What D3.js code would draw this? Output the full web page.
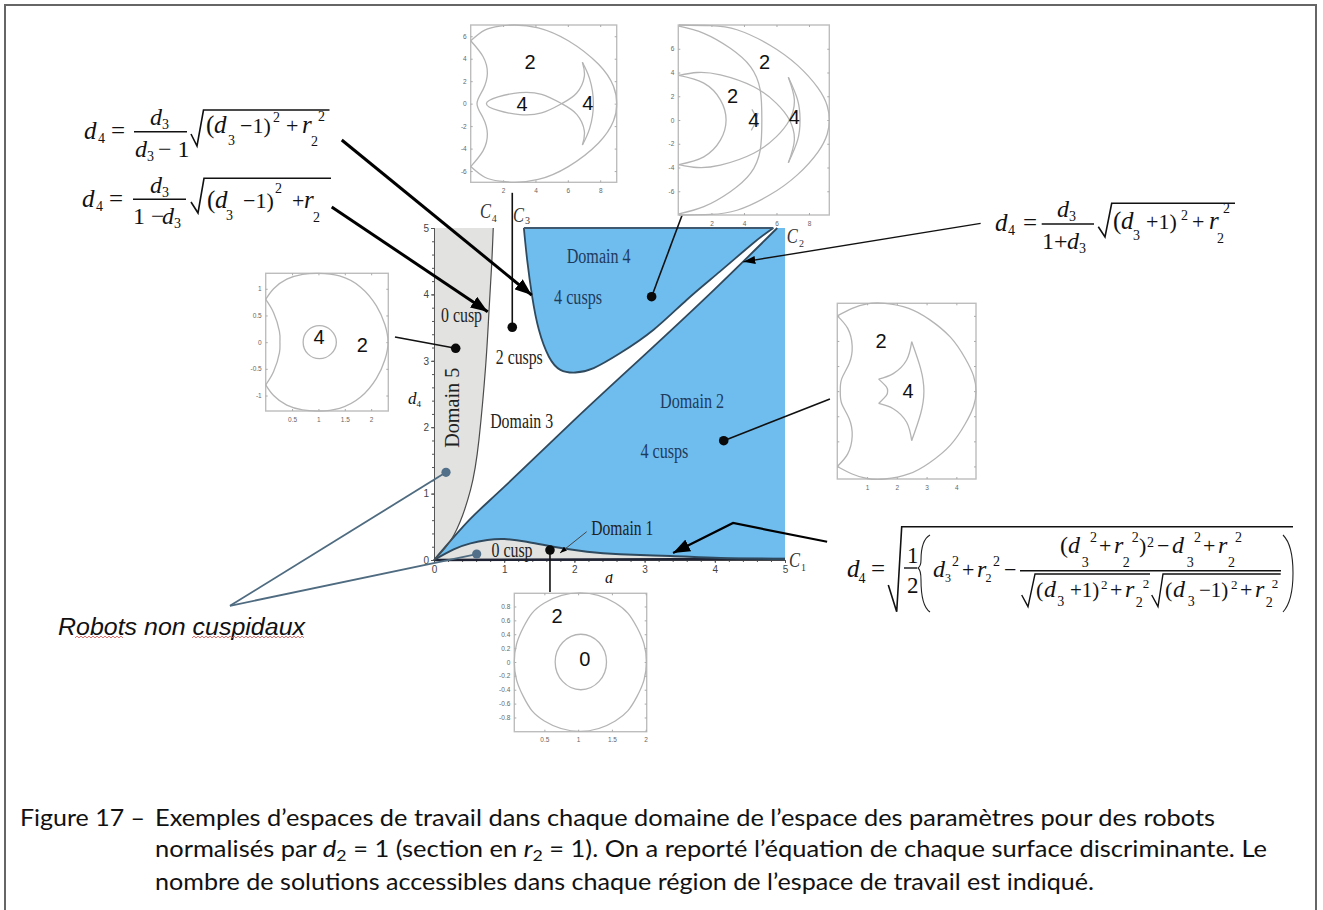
<!DOCTYPE html>
<html><head><meta charset="utf-8">
<script src="https://cdnjs.cloudflare.com/ajax/libs/d3/7.8.5/d3.min.js"></script>
<style>html,body{margin:0;background:#fff}svg{display:block}</style></head>
<body><svg id="c" width="1323" height="910"></svg>
<script>
// ---- main chart values (d3, d4) ----
const tickValues=[0,1,2,3,4,5];
const curveC1=[[0,0],[.28,.16],[.52,.25],[.76,.3],[1,.315],[1.32,.275],[1.7,.2],[2.18,.125],[2.65,.085],[3.37,.06],[4.08,.03],[5,.015]];
const curveC2=[[0,0],[.5,.6],[1,1.1],[2,2.11],[3,3.09],[4,4.08],[4.89,5]];
const curveC3=[[1.28,5],[1.327,4.52],[1.398,3.97],[1.493,3.47],[1.635,3.065],[1.8,2.864],[2.014,2.824],[2.275,2.89],[2.654,3.116],[3.128,3.467],[3.602,3.92],[4.076,4.347],[4.55,4.774],[4.834,5]];
const curveC4=[[0,0],[.284,.377],[.52,1.055],[.64,1.81],[.735,2.91],[.782,3.72],[.82,4.42],[.844,5]];
const blackDots=[[3.1,3.965],[1.115,3.505],[.309,3.188],[4.127,1.797],[1.652,.15]];
const slateDots=[[.171,1.32],[.608,.09]];
const leaders=[[[1.115,3.505],[1.115,5.53]],[[3.1,3.965],[3.54,5.21]],[[.309,3.188],[-.556,3.358]],[[4.127,1.797],[5.64,2.425]],[[1.652,.15],[1.652,-.482]]];
const thickArrows=[[[-1.314,6.325],[1.392,3.99]],[[-1.457,5.316],[.765,3.74]]];
const thinArrow=[[7.787,5.07],[4.406,4.49]];
const elbowArrow=[[5.6,.275],[4.26,.557],[3.405,.105]];
const smallArrow=[[2.175,.426],[1.795,.105]];
const robotLines=[[[-2.906,-.69],[.171,1.32]],[[-2.906,-.69],[.608,.09]]];
const regionLabels=[
 ["Domain 4",1.89,4.47,64,"#1f3b5c"],["4 cusps",1.71,3.85,48,"#1f3b5c"],
 ["Domain 2",3.22,2.29,64,"#1f3b5c"],["4 cusps",2.94,1.54,48,"#1f3b5c"],
 ["Domain 3",.8,1.99,63,"#222"],["2 cusps",.88,2.95,47,"#222"],
 ["0 cusp",.1,3.59,41,"#222"],["Domain 1",2.24,.38,62,"#222"],["0 cusp",.82,.05,41,"#222"]];

// ---- workspace insets: axes ----
const insetA={x:[0,9.02],y:[-7,7],xt:[2,4,6,8],yt:[-6,-4,-2,0,2,4,6]};
const insetB={x:[-.04,9.25],y:[-8,8],xt:[2,4,6,8],yt:[-6,-4,-2,0,2,4,6]};
const insetC={x:[0,2.325],y:[-1.29,1.29],xt:[.5,1,1.5,2],yt:[-1,-.5,0,.5,1]};
const insetD={x:[0,4.66],y:[-3.5,3.5],xt:[1,2,3,4],yt:[-3,-2,-1,0,1,2,3]};
const insetE={x:[.055,2.015],y:[-1.005,.99],xt:[.5,1,1.5,2],yt:[-.8,-.6,-.4,-.2,0,.2,.4,.6,.8]};
// ---- workspace insets: boundaries ----
const linesA=[
 [[0,5.6],[.87,6.55],[1.8,6.9],[2.73,7],[4.17,6.75],[6.03,5.6],[7.9,3.5],[8.82,1.55],[9.02,0],[8.82,-1.55],[7.9,-3.5],[6.03,-5.6],[4.17,-6.75],[2.73,-7],[1.8,-6.9],[.87,-6.55],[0,-5.6]],
 [[0,5.6],[.76,4.2],[1.03,2.7],[.76,1.25],[.39,0],[.76,-1.25],[1.03,-2.7],[.76,-4.2],[0,-5.6]],
 [[6.9,3.68],[7.35,2.2],[7.58,0],[7.35,-2.2],[6.9,-3.68]],
 [[6.9,3.68],[7.02,2.43],[6.55,.95],[5.62,0],[4.38,-.83],[3.04,-.98],[1.69,-.6],[.97,0],[1.69,.6],[3.04,.98],[4.38,.83],[5.62,0],[6.55,-.95],[7.02,-2.43],[6.9,-3.68]]];
const linesB=[
 [[0,8],[1.94,7.95],[3.57,7.6],[5.6,6.3],[7.3,4.6],[8.55,2.7],[9.12,1.2],[9.25,0],[9.12,-1.2],[8.55,-2.7],[7.3,-4.6],[5.6,-6.3],[3.57,-7.6],[1.94,-7.95],[0,-8]],
 [[0,7.9],[1.53,7.3],[3.16,6.04],[4.4,4.5],[5,2.53],[5.1,0],[5,-2.53],[4.4,-4.5],[3.16,-6.04],[1.53,-7.3],[0,-7.9]],
 [[6.73,3.6],[7.1,1.7],[6.8,0],[6,-1.4],[4.6,-2.8],[2.55,-3.8],[1.12,-4],[0,-3.75]],
 [[6.73,-3.6],[7.1,-1.7],[6.8,0],[6,1.4],[4.6,2.8],[2.55,3.8],[1.12,4],[0,3.75]],
 [[6.73,3.6],[7.3,1.7],[7.45,0],[7.3,-1.7],[6.73,-3.6]],
 [[0,3.75],[1.53,3.1],[2.55,1.7],[2.9,0],[2.55,-1.7],[1.53,-3.1],[0,-3.75]],
 [[4.49,.9],[4.75,.2],[4.86,-.5]],[[4.45,-.87],[4.7,-.2],[4.86,.6]]];
const linesC=[
 [[0,.8],[.15,1],[.4,1.18],[.7,1.27],[1,1.29],[1.4,1.24],[1.8,1.03],[2.1,.68],[2.26,.33],[2.32,0],[2.26,-.33],[2.1,-.68],[1.8,-1.03],[1.4,-1.24],[1,-1.29],[.7,-1.27],[.4,-1.18],[.15,-1],[0,-.8]],
 [[0,.8],[.15,.55],[.26,.2],[.27,0],[.26,-.2],[.15,-.55],[0,-.8]],
 [[.71,0],[.8,.22],[1.02,.31],[1.24,.22],[1.34,0],[1.24,-.22],[1.02,-.31],[.8,-.22],[.71,0]]];
const linesD=[
 [[0,3],[.5,3.3],[1,3.48],[1.6,3.5],[2.4,3.3],[3.1,2.85],[3.8,2.15],[4.3,1.3],[4.58,.6],[4.66,0],[4.58,-.6],[4.3,-1.3],[3.8,-2.15],[3.1,-2.85],[2.4,-3.3],[1.6,-3.5],[1,-3.48],[.5,-3.3],[0,-3]],
 [[0,3],[.35,2.5],[.5,1.8],[.4,1.1],[.15,.5],[.1,0],[.15,-.5],[.4,-1.1],[.5,-1.8],[.35,-2.5],[0,-3]],
 [[2.5,1.97],[2.8,.9],[2.91,0],[2.8,-.9],[2.5,-1.97]],
 [[2.5,1.97],[2.33,1.24],[1.88,.7],[1.39,.48]],
 [[1.39,.48],[1.65,.17],[1.69,0],[1.65,-.17],[1.39,-.49]],
 [[1.39,-.49],[1.88,-.7],[2.33,-1.24],[2.5,-1.97]]];
const linesE=[
 [[.055,0],[.19,.5],[.5,.85],[1.03,.995],[1.55,.85],[1.87,.5],[2.01,0],[1.87,-.5],[1.55,-.85],[1.03,-1],[.5,-.85],[.19,-.5],[.055,0]],
 [[.66,0],[.77,.28],[1.04,.4],[1.31,.28],[1.42,0],[1.31,-.28],[1.04,-.4],[.77,-.28],[.66,0]]];
const countsA=[["2",3.66,3.7],["4",3.17,0],["4",7.24,.05]];
const countsB=[["2",5.27,4.9],["2",3.3,2],["4",4.6,0],["4",7.1,.25]];
const countsC=[["4",1.01,.1],["2",1.83,-.05]];
const countsD=[["2",1.47,2],["4",2.38,0]];
const countsE=[["2",.687,.66],["0",1.1,.04]];

const svg=d3.select("#c");
const SERIF="'Liberation Serif',serif", SANS="'Liberation Sans',sans-serif";
const x=d3.scaleLinear([0,5],[434,785]), y=d3.scaleLinear([0,5],[560,228]);
const line=d3.line(d=>x(d[0]),d=>y(d[1])).curve(d3.curveNatural);
const straight=d3.line(d=>x(d[0]),d=>y(d[1]));
const pagePath=d3.line();

// page frame
svg.append("path").attr("d",pagePath([[5,910],[5,5],[1316,5],[1316,910]])).attr("fill","none").attr("stroke","#666").attr("stroke-width",2);

// arrow heads
const defs=svg.append("defs");
[["big",17,13],["mid",12,8],["tiny",7,5]].forEach(([id,l,w])=>{
 defs.append("marker").attr("id",id).attr("markerUnits","userSpaceOnUse").attr("markerWidth",l).attr("markerHeight",w)
  .attr("refX",l).attr("refY",w/2).attr("orient","auto")
  .append("path").attr("d",pagePath([[0,0],[l,w/2],[0,w]])+"Z").attr("fill","#000");
});

// regions
const gray="#e2e2e0", blue="#6fbdef";
const rev=a=>line(a.slice().reverse()).replace(/^M/,"L");
svg.append("path").attr("d",line(curveC4)+"L"+x(0)+","+y(5)+"L"+x(0)+","+y(0)+"Z").attr("fill",gray);
svg.append("path").attr("d",line(curveC1)+"L"+x(0)+","+y(0)+"Z").attr("fill",gray);
svg.append("path").attr("d",line(curveC2)+"L"+x(5)+","+y(5)+rev(curveC1)+"Z").attr("fill",blue);
svg.append("path").attr("d",line(curveC3)+"Z").attr("fill",blue);

// axes
const axisStyle=g=>{g.selectAll("text").attr("font-family",SANS).attr("font-size",10).attr("fill","#444");
 g.selectAll("path,line").attr("stroke","#555");};
const fmt=d3.format("d");
svg.append("g").attr("transform",`translate(${x(0)},0)`).call(d3.axisLeft(y).tickValues(d3.range(0,5.01,.2)).tickSize(2).tickFormat("")).call(axisStyle);
svg.append("g").attr("transform",`translate(0,${y(0)})`).call(d3.axisBottom(x).tickValues(d3.range(0,5.01,.2)).tickSize(2).tickFormat("")).call(axisStyle);
svg.append("g").attr("transform",`translate(${x(0)},0)`).call(d3.axisLeft(y).tickValues(tickValues).tickSize(3).tickPadding(2).tickFormat(fmt)).call(axisStyle);
svg.append("g").attr("transform",`translate(0,${y(0)})`).call(d3.axisBottom(x).tickValues(tickValues).tickSize(3).tickPadding(3).tickFormat(fmt)).call(axisStyle);

// boundaries
const stroke=(d,c,w)=>svg.append("path").attr("d",d).attr("fill","none").attr("stroke",c).attr("stroke-width",w);
stroke(straight([[0,0],[5,.015]]),"#1f2233",2.4);
stroke(line(curveC1),"#2f4a5e",2);
stroke(line(curveC2),"#2f4a5e",1.8);
stroke(line(curveC3),"#2f4a5e",1.8);
stroke(straight([curveC3[0],curveC3[curveC3.length-1]]),"#3f5a70",2.2);
stroke(line(curveC4),"#4c4c4c",1.2);

// region labels
regionLabels.forEach(([t,a,b,w,c])=>svg.append("text").text(t).attr("x",x(a)).attr("y",y(b)).attr("font-family",SERIF).attr("font-size",20)
  .attr("textLength",w).attr("lengthAdjust","spacingAndGlyphs").attr("fill",c));
svg.append("text").text("Domain 5").attr("transform",`translate(${x(.358)},${y(1.69)}) rotate(-90)`).attr("font-family",SERIF).attr("font-size",21)
  .attr("textLength",80).attr("lengthAdjust","spacingAndGlyphs").attr("fill","#222");

// generic page text
const T=(px,py,s,size,italic,family,fill)=>svg.append("text").text(s).attr("x",px).attr("y",py)
  .attr("font-family",family||SERIF).attr("font-size",size).attr("font-style",italic?"italic":"normal").attr("fill",fill||"#111");
[["C",789,567,"1",801,571],["C",786.7,243,"2",799,247],["C",513,221.7,"3",525,224],["C",480,218,"4",491.7,221.7]].forEach(a=>{
 T(a[1],a[2],a[0],21,true,SERIF,"#333").attr("textLength",11).attr("lengthAdjust","spacingAndGlyphs");T(a[4],a[5],a[3],10,false,SERIF,"#333");});
T(408,404,"d",17,true);T(416.5,407,"4",9);
defs.append("clipPath").attr("id","cutd").append("rect").attr("x",600).attr("y",574).attr("width",20).attr("height",14);
T(605,583,"d",16,true).attr("clip-path","url(#cutd)");

// leaders
leaders.forEach(l=>stroke(straight(l),"#111",1.6));
thickArrows.forEach(l=>stroke(straight(l),"#000",3).attr("marker-end","url(#big)"));
stroke(straight(thinArrow),"#111",1.4).attr("marker-end","url(#mid)");
stroke(straight(elbowArrow),"#000",2.2).attr("marker-end","url(#big)");
stroke(straight(smallArrow),"#444",1).attr("marker-end","url(#tiny)");
robotLines.forEach(l=>stroke(straight(l),"#4f6b80",1.8));
svg.append("g").selectAll("circle").data(blackDots).join("circle").attr("cx",d=>x(d[0])).attr("cy",d=>y(d[1])).attr("r",4.8).attr("fill","#0a0a0a");
svg.append("g").selectAll("circle").data(slateDots).join("circle").attr("cx",d=>x(d[0])).attr("cy",d=>y(d[1])).attr("r",4.6).attr("fill","#527089");

// insets
function inset(cfg,box,lines,counts,labelSize){
 const [l,t,r,b]=box, sx=d3.scaleLinear(cfg.x,[l,r]), sy=d3.scaleLinear(cfg.y,[b,t]);
 const g=svg.append("g");
 g.append("rect").attr("x",l).attr("y",t).attr("width",r-l).attr("height",b-t).attr("fill","#fff").attr("stroke","#bdbdbd").attr("stroke-width",1.4);
 const st=a=>{a.select(".domain").remove();a.selectAll("line").attr("stroke","#aaa");
   a.selectAll("text").attr("font-family",SANS).attr("font-size",labelSize).attr("fill","#666");};
 g.append("g").attr("transform",`translate(0,${b})`).call(d3.axisBottom(sx).tickValues(cfg.xt).tickSizeInner(-2).tickSizeOuter(0).tickPadding(6).tickFormat(d=>String(d))).call(st);
 g.append("g").attr("transform",`translate(${l},0)`).call(d3.axisLeft(sy).tickValues(cfg.yt).tickSizeInner(-2).tickSizeOuter(0).tickPadding(4).tickFormat(cfg===insetD?"":(d=>String(d)))).call(st);
 g.append("g").attr("transform",`translate(0,${t})`).call(d3.axisTop(sx).tickValues(cfg.xt).tickSizeInner(-2).tickSizeOuter(0).tickFormat("")).call(st);
 g.append("g").attr("transform",`translate(${r},0)`).call(d3.axisRight(sy).tickValues(cfg.yt).tickSizeInner(-2).tickSizeOuter(0).tickFormat("")).call(st);
 const ln=d3.line(d=>sx(d[0]),d=>sy(d[1])).curve(d3.curveNatural);
 const lnClosed=d3.line(d=>sx(d[0]),d=>sy(d[1])).curve(d3.curveCardinalClosed.tension(-.2));
 lines.forEach(a=>{
  const closed=a[0][0]===a[a.length-1][0]&&a[0][1]===a[a.length-1][1];
  g.append("path").attr("d",closed?lnClosed(a.slice(0,-1)):ln(a)).attr("fill","none").attr("stroke","#b4b4b4").attr("stroke-width",1.3);
 });
 counts.forEach(([s,a,c])=>g.append("text").text(s).attr("x",sx(a)).attr("y",sy(c)+7).attr("text-anchor","middle").attr("font-family",SANS).attr("font-size",20).attr("fill","#111"));
}
inset(insetA,[470.7,25,616.7,182.3],linesA,countsA,6.5);
inset(insetB,[678.3,25,829.3,215],linesB,countsB,6.5);
inset(insetC,[265.7,273.3,388.3,411],linesC,countsC,6.5);
inset(insetD,[837.3,303.3,976,479],linesD,countsD,6.5);
inset(insetE,[514.3,593.3,646.7,731.7],linesE,countsE,6.5);

// formulas
const D=(px,py,s,sz)=>T(px,py,s,sz||25,true);
const N=(px,py,s,sz)=>T(px,py,s,sz||25,false);
const R=(pts,w)=>svg.append("path").attr("d",pagePath(pts)).attr("fill","none").attr("stroke","#111").attr("stroke-width",w||1.4);
// C3
D(84,139,"d");N(98,143,"4",14);N(111,139,"=");D(150,125,"d",24);N(162,129,"3",14);R([[134,131.7],[187,131.7]]);
D(135,157,"d",24);N(147,161,"3",14);N(158,157,"− 1",24);
R([[191,134],[197,146],[203.5,110],[329.5,110]],1.6);
N(206,133,"(");D(214,133,"d");N(228,145,"3",14);N(240,133,"−1)",22);N(273,122,"2",14);N(286,133,"+",22);D(302,133,"r");N(311,146,"2",14);N(318,121,"2",14);
// C4
D(82,207,"d");N(96,211,"4",14);N(109,207,"=");D(150,193,"d",24);N(162,197,"3",14);R([[133,199.3],[186,199.3]]);
N(133,224,"1 −",24);D(162,224,"d",24);N(174,228,"3",14);
R([[191,202],[198,213],[204,178.3],[331,178.3]],1.6);
N(207,208,"(");D(215,208,"d");N(226,220,"3",14);N(243,208,"−1)",22);N(275,193,"2",14);N(292,208,"+",22);D(304,208,"r");N(313,222,"2",14);
// C2
D(995,231,"d");N(1008,235,"4",14);N(1023,231,"=");D(1057,217,"d",24);N(1069,221,"3",14);R([[1041.7,224],[1094,224]]);
N(1042,249,"1+",24);D(1067,249,"d",24);N(1079,253,"3",14);
R([[1098.3,226.7],[1105,237],[1111.7,203.3],[1235,203.3]],1.6);
N(1113,229,"(");D(1121,229,"d");N(1133,240,"3",14);N(1146,229,"+1)",22);N(1181,220,"2",14);N(1192,229,"+",22);D(1209,229,"r");N(1217,243,"2",14);N(1223,213,"2",14);
// C1
D(847,577,"d");N(858.5,583,"4",14);N(871,577,"=");
R([[888.3,585],[896.7,611.7],[901.7,526.7],[1293,526.7]],1.6);
N(907,563,"1",23);R([[904,568],[917,568]]);N(907,593,"2",23);
svg.append("path").attr("d","M930,535Q921,540 921,560Q921,566 918,568Q921,570 921,580Q921,606 930,612").attr("fill","none").attr("stroke","#222").attr("stroke-width",1.1);
svg.append("path").attr("d","M1283,535Q1293,545 1293,573Q1293,601 1283,612").attr("fill","none").attr("stroke","#222").attr("stroke-width",1.1);
D(933,577,"d",24);N(945,582,"3",12);N(952,566,"2",14);N(962,577,"+",22);D(977,577,"r",24);N(985.5,582,"2",12);N(993,566,"2",14);N(1004,577,"−",22);
N(1060,553,"(",24);D(1068,553,"d",24);N(1081.7,567,"3",14);N(1090,542,"2",14);N(1099,553,"+",22);D(1114,553,"r",24);N(1122.7,567,"2",14);N(1131.7,542,"2",14);N(1139,553,")",22);N(1147,547,"2",14);N(1157,553,"−",22);D(1172,553,"d",24);N(1186.7,567,"3",14);N(1194,542,"2",14);N(1203,553,"+",22);D(1218,553,"r",24);N(1228,567,"2",14);N(1235,542,"2",14);
R([[1020,570.7],[1281,570.7]]);
R([[1021.7,595],[1028,606.7],[1035,574],[1150,574]]);
N(1036,597,"(",22);D(1044,597,"d",24);N(1057.3,606,"3",14);N(1070,597,"+1)",21);N(1101,589,"2",13);N(1110,597,"+",22);D(1125,597,"r",24);N(1135.7,607,"2",14);N(1142.7,588,"2",13);
R([[1151.7,595],[1158,606.7],[1163,574],[1280.7,574]]);
N(1165,597,"(",22);D(1173,597,"d",24);N(1187.7,606,"3",14);N(1199,597,"−1)",21);N(1231,589,"2",13);N(1240,597,"+",22);D(1255,597,"r",24);N(1265.7,607,"2",14);N(1271.7,588,"2",13);

// Robots non cuspidaux
T(58,635,"Robots non cuspidaux",23,true,SANS,"#111").attr("textLength",247).attr("lengthAdjust","spacingAndGlyphs");
[[75,125],[192,306]].forEach(([a,b])=>{
 const pts=d3.range(a,b,2).map((v,i)=>[v,i%2?636:638]);
 svg.append("path").attr("d",pagePath(pts)).attr("fill","none").attr("stroke","#d9534f").attr("stroke-width",.8);
});

// caption
const CAP="Lato,sans-serif";
const cap=(px,py,w)=>svg.append("text").attr("x",px).attr("y",py).attr("font-family",CAP).attr("font-size",23).attr("fill","#111")
  .attr("textLength",w).attr("lengthAdjust","spacingAndGlyphs");
cap(20,826,125).text("Figure 17 –");
cap(155,826,1060).text("Exemples d’espaces de travail dans chaque domaine de l’espace des paramètres pour des robots");
const l2=cap(155,857,1112);
l2.append("tspan").text("normalisés par ");
l2.append("tspan").attr("font-style","italic").text("d");
l2.append("tspan").attr("dy",4).attr("font-size",16).text("2");
l2.append("tspan").attr("dy",-4).text(" = 1 (section en ");
l2.append("tspan").attr("font-style","italic").text("r");
l2.append("tspan").attr("dy",4).attr("font-size",16).text("2");
l2.append("tspan").attr("dy",-4).text(" = 1). On a reporté l’équation de chaque surface discriminante. Le");
cap(155,890,939).text("nombre de solutions accessibles dans chaque région de l’espace de travail est indiqué.");
</script></body></html>
